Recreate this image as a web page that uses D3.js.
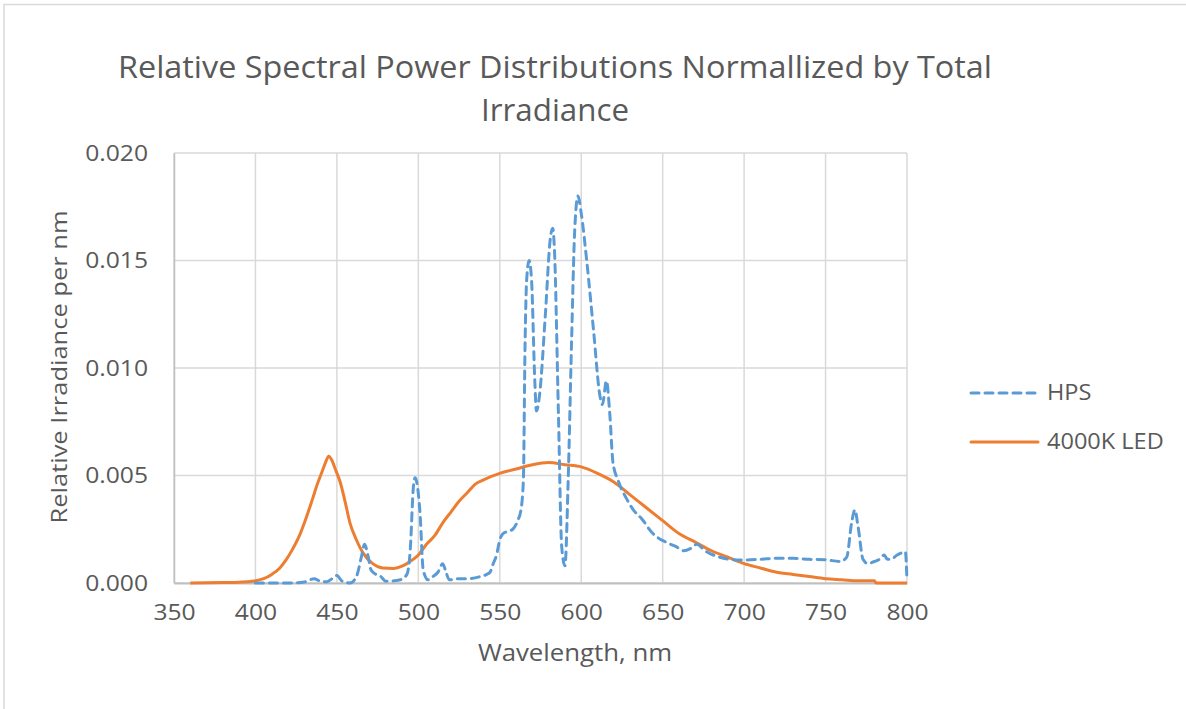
<!DOCTYPE html>
<meta charset="utf-8">
<script src="https://cdn.jsdelivr.net/npm/d3@7"></script>
<style>
  body { margin: 0; background: #fff; }
  text { font-family: "Open Sans", sans-serif; fill: #595959; }
</style>
<div id="chart"></div>
<script>

  // HPS spectrum (nm, value)
  const hpsNm  = [400, 420, 430, 436, 440, 444, 447, 450, 453, 458, 462, 465, 467, 469, 471, 474, 477, 480, 485, 489, 493, 495, 497, 498, 499, 501, 503, 506, 509, 512, 515, 517, 519, 525, 530, 538, 542, 544, 546, 548, 550, 552, 555, 558, 561, 563, 564.5, 565.5, 566.5, 568, 569.5, 571.5, 572.5, 574.5, 578, 581, 582.5, 583.5, 586, 588, 590, 592, 594, 596, 598, 600, 603.5, 607.5, 611.5, 613, 615.5, 617.5, 619.5, 622.5, 628, 632, 637, 644, 652, 658, 663, 667, 671, 676, 685, 697, 710, 720, 730, 740, 750, 759, 763, 766, 768, 770, 773, 776, 780, 783, 786, 788, 790, 794, 799, 800];
  const hpsVal = [0, 0, 0.00005, 0.0002, 0.00008, 0.00006, 0.0002, 0.00035, 0.0001, 0, 0.0003, 0.0012, 0.0018, 0.0013, 0.0006, 0.0004, 0.0003, 0.00008, 0.0001, 0.00015, 0.0004, 0.0015, 0.0045, 0.0049, 0.0047, 0.0033, 0.0006, 0.00015, 0.0003, 0.0005, 0.0009, 0.0005, 0.00015, 0.0002, 0.0002, 0.0003, 0.0004, 0.0005, 0.0009, 0.0013, 0.002, 0.0023, 0.0024, 0.0025, 0.0029, 0.0034, 0.0048, 0.011, 0.0141, 0.0150, 0.0141, 0.0094, 0.0080, 0.0088, 0.0125, 0.0160, 0.0165, 0.0156, 0.0079, 0.0017, 0.0008, 0.0048, 0.011, 0.0164, 0.0180, 0.0172, 0.0149, 0.0118, 0.0087, 0.0083, 0.0094, 0.0079, 0.0056, 0.0048, 0.0039, 0.0034, 0.0030, 0.0023, 0.0019, 0.0017, 0.0015, 0.0016, 0.0018, 0.0015, 0.0012, 0.00107, 0.0011, 0.00115, 0.00115, 0.0011, 0.00108, 0.001, 0.0012, 0.0028, 0.0034, 0.0026, 0.0011, 0.0009, 0.001, 0.0011, 0.0013, 0.0011, 0.0011, 0.0013, 0.00145, 0.0001];

  // 4000K LED spectrum
  const ledNm  = [360, 380, 390, 398, 405, 410, 415, 419, 423, 427, 431, 435, 438, 441, 443, 445, 447, 449, 452, 455, 458, 462, 466, 472, 478, 485, 490, 495, 500, 505, 510, 515, 520, 525, 530, 535, 540, 550, 560, 570, 580, 590, 600, 610, 620, 630, 640, 650, 660, 670, 680, 690, 700, 710, 720, 730, 740, 750, 760, 770, 780, 781, 800];
  const ledVal = [0, 0.00002, 0.00004, 0.00008, 0.0002, 0.0004, 0.0007, 0.0011, 0.0016, 0.0022, 0.0030, 0.0039, 0.0046, 0.0052, 0.0056, 0.0059, 0.0057, 0.0053, 0.0047, 0.0038, 0.0028, 0.0020, 0.0014, 0.0009, 0.0007, 0.00068, 0.00078, 0.001, 0.0013, 0.0018, 0.0022, 0.0028, 0.0033, 0.0038, 0.0042, 0.0046, 0.0048, 0.0051, 0.0053, 0.0055, 0.0056, 0.0055, 0.0054, 0.0051, 0.0047, 0.0041, 0.0035, 0.0029, 0.0023, 0.0019, 0.0015, 0.0012, 0.0009, 0.0007, 0.0005, 0.0004, 0.0003, 0.0002, 0.00015, 0.0001, 0.0001, 0, 0];

  const xTicks = [350, 400, 450, 500, 550, 600, 650, 700, 750, 800];
  const yTicks = [0, 0.005, 0.010, 0.015, 0.020];
  const seriesNames = ["HPS", "4000K LED"];

  const W = 1186, H = 709;
  const margin = {top: 153, right: 279, bottom: 126, left: 174};
  const width = W - margin.left - margin.right,
        height = H - margin.top - margin.bottom;

  // the source picture is a bit wider than its fonts, stretch text to match
  const wide = 1.12;
  function stretch(sel, k) {
    sel.each(function() {
      this.setAttribute("textLength", this.getComputedTextLength() * k);
      this.setAttribute("lengthAdjust", "spacingAndGlyphs");
    });
  }

  const svg = d3.select("#chart")
    .append("svg")
      .attr("width", W)
      .attr("height", H);

  // outer frame (only top and left edges show)
  svg.append("path")
    .attr("d", `M4,${H} V4.5 H${W}`)
    .attr("fill", "none")
    .attr("stroke", "#d9d9d9")
    .attr("stroke-width", 1.5);

  const g = svg.append("g")
    .attr("transform", `translate(${margin.left},${margin.top})`);

  const x = d3.scaleLinear().domain([350, 800]).range([0, width]);
  const y = d3.scaleLinear().domain([0, 0.020]).range([height, 0]);

  // gridlines
  g.append("g")
    .selectAll("line")
    .data(xTicks)
    .join("line")
      .attr("x1", d => x(d)).attr("x2", d => x(d))
      .attr("y1", 0).attr("y2", height)
      .attr("stroke", "#d9d9d9").attr("stroke-width", 1.5);
  g.append("g")
    .selectAll("line")
    .data(yTicks)
    .join("line")
      .attr("x1", 0).attr("x2", width)
      .attr("y1", d => y(d)).attr("y2", d => y(d))
      .attr("stroke", "#d9d9d9").attr("stroke-width", 1.5);

  // axes
  const xAxis = g.append("g")
    .attr("transform", `translate(0,${height})`)
    .call(d3.axisBottom(x).tickValues(xTicks).tickSize(0).tickPadding(21).tickFormat(d3.format("d")));
  xAxis.select(".domain").attr("stroke", "#bfbfbf").attr("stroke-width", 2);
  xAxis.selectAll("text")
    .style("font-family", '"Open Sans", sans-serif')
    .attr("font-size", 22).attr("fill", "#595959")
    .call(stretch, wide);

  const yAxis = g.append("g")
    .call(d3.axisLeft(y).tickValues(yTicks).tickSize(0).tickPadding(26).tickFormat(d3.format(".3f")));
  yAxis.select(".domain").attr("stroke", "#bfbfbf").attr("stroke-width", 1.5);
  yAxis.selectAll("text")
    .style("font-family", '"Open Sans", sans-serif')
    .attr("font-size", 22).attr("fill", "#595959")
    .call(stretch, wide);

  // series
  const hps = hpsNm.map((d, i) => ({nm: d, v: hpsVal[i]}));
  const led = ledNm.map((d, i) => ({nm: d, v: ledVal[i]}));

  const line = d3.line()
    .x(d => x(d.nm))
    .y(d => y(d.v))
    .curve(d3.curveMonotoneX);

  g.append("path")
    .datum(led)
    .attr("d", line)
    .attr("fill", "none")
    .attr("stroke", "#ED7D31")
    .attr("stroke-width", 3)
    .attr("stroke-linejoin", "round");

  g.append("path")
    .datum(hps)
    .attr("d", line)
    .attr("fill", "none")
    .attr("stroke", "#5B9BD5")
    .attr("stroke-width", 3)
    .attr("stroke-dasharray", "8,6")
    .attr("stroke-linecap", "round")
    .attr("stroke-linejoin", "round");

  // title
  const title = svg.append("text")
    .attr("text-anchor", "middle")
    .attr("font-size", 31);
  title.append("tspan").attr("x", 555).attr("y", 78)
    .text("Relative Spectral Power Distributions Normallized by Total")
    .attr("textLength", 874).attr("lengthAdjust", "spacingAndGlyphs");
  title.append("tspan").attr("x", 555).attr("y", 121)
    .text("Irradiance")
    .attr("textLength", 148).attr("lengthAdjust", "spacingAndGlyphs");

  // axis titles
  svg.append("text")
    .attr("x", 575).attr("y", 661)
    .attr("text-anchor", "middle")
    .attr("font-size", 23)
    .text("Wavelength, nm")
    .call(stretch, wide);

  svg.append("text")
    .attr("transform", "translate(67,367) rotate(-90)")
    .attr("text-anchor", "middle")
    .attr("font-size", 22)
    .attr("textLength", 313).attr("lengthAdjust", "spacingAndGlyphs")
    .text("Relative Irradiance per nm");

  // legend
  const legend = svg.append("g").attr("transform", "translate(970,393)");
  const items = legend.selectAll("g")
    .data(seriesNames)
    .join("g")
      .attr("transform", (d, i) => `translate(0,${i * 49})`);
  items.append("line")
    .attr("x1", 1).attr("x2", 68)
    .attr("stroke", (d, i) => i === 0 ? "#5B9BD5" : "#ED7D31")
    .attr("stroke-width", 3)
    .attr("stroke-linecap", "round")
    .attr("stroke-dasharray", (d, i) => i === 0 ? "8,6" : null);
  items.append("text")
    .attr("x", 77).attr("y", 7)
    .attr("font-size", 21)
    .text(d => d)
    .call(stretch, wide);

</script>
